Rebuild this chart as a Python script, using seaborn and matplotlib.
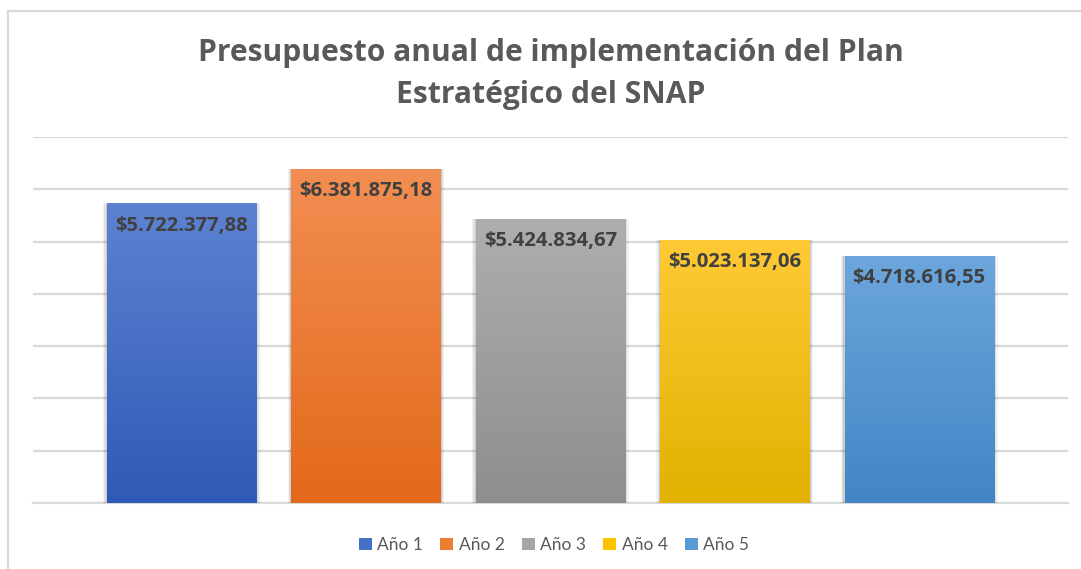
import numpy as np
import pandas as pd
import matplotlib
matplotlib.use("Agg")
import matplotlib.pyplot as plt
from matplotlib.patches import Rectangle, Patch
from matplotlib.colors import LinearSegmentedColormap
import seaborn as sns

# Budget per year of the strategic plan
years = ["Año 1", "Año 2", "Año 3", "Año 4", "Año 5"]
budget = [5722377.88, 6381875.18, 5424834.67, 5023137.06, 4718616.55]
labels = ["$5.722.377,88", "$6.381.875,18", "$5.424.834,67", "$5.023.137,06", "$4.718.616,55"]

# Gradient colours (top, bottom) per series
top_colors = ["#5D82D1", "#F28E52", "#AEAEAE", "#FFC935", "#6CA6DC"]
bottom_colors = ["#2E5BB6", "#E3691A", "#8E8E8E", "#E2B100", "#4285C6"]
legend_colors = ["#4472C4", "#ED7D31", "#A5A5A5", "#FFC000", "#5B9BD5"]

df = pd.DataFrame({"year": years, "budget": budget})

sns.set_theme(style="white")
plt.rcParams["font.family"] = ["Lato", "DejaVu Sans"]
bold_family = ["Open Sans", "DejaVu Sans"]

W, H = 1081, 569
fig = plt.figure(figsize=(W / 100, H / 100), dpi=100)
fig.patch.set_facecolor("white")

# Outer chart frame
fig.patches.append(Rectangle((8 / W, -0.1), 1.2, (H - 11) / H + 0.1,
                             transform=fig.transFigure, fill=False,
                             edgecolor="#D9D9D9", linewidth=1.6))

ax = fig.add_axes([33 / W, (H - 503) / H, (1068 - 33) / W, (503 - 137) / H])
sns.barplot(data=df, x="year", y="budget", hue="year", palette=top_colors,
            dodge=False, width=0.808, legend=False, ax=ax, zorder=3)

ax.set_yticks(np.arange(0, 7000001, 1000000))
ax.yaxis.grid(True, color="#D9D9D9", linewidth=1.6)
ax.set_axisbelow(True)
ax.tick_params(left=False, bottom=False, labelleft=False, labelbottom=False)
ax.set_xlabel("")
ax.set_ylabel("")
for s in ["top", "right", "left"]:
    ax.spines[s].set_visible(False)
ax.spines["bottom"].set_color("#D9D9D9")
ax.spines["bottom"].set_linewidth(1.6)
ax.spines["bottom"].set_zorder(1)

grad = np.linspace(0, 1, 256).reshape(-1, 1)
for i, patch in enumerate(ax.patches[:len(years)]):
    x0 = patch.get_x()
    w = patch.get_width()
    h = patch.get_height()
    # soft shadow around each bar
    for k, a in zip([0.06, 0.04, 0.02], [0.05, 0.07, 0.09]):
        ax.add_patch(Rectangle((x0 - k * 0.35, 0), w + 2 * k * 0.35, h + k * 1.2e5,
                               facecolor="#000000", alpha=a, edgecolor="none", zorder=2))
    cmap = LinearSegmentedColormap.from_list(f"g{i}", [top_colors[i], bottom_colors[i]])
    ax.imshow(grad, cmap=cmap, aspect="auto", extent=[x0, x0 + w, 0, h],
              origin="upper", zorder=3.5)
    patch.set_facecolor("none")
    patch.set_edgecolor("none")
    ax.annotate(labels[i], xy=(x0 + w / 2, h), xytext=(0, -22),
                textcoords="offset pixels", ha="center", va="center",
                fontsize=14.6, fontweight="bold", family=bold_family,
                color="#404040", zorder=5)

ax.set_xlim(-0.805, 4.807)
ax.set_ylim(0, 7000000)

fig.text(551 / W, 1 - 53 / H, "Presupuesto anual de implementación del Plan",
         ha="center", va="center", fontsize=21.6, fontweight="bold",
         family=bold_family, color="#595959")
fig.text(551 / W, 1 - 95 / H, "Estratégico del SNAP",
         ha="center", va="center", fontsize=21.6, fontweight="bold",
         family=bold_family, color="#595959")

handles = [Patch(facecolor=c, edgecolor="none") for c in legend_colors]
fig.legend(handles, years, loc="center", bbox_to_anchor=(554 / W, 1 - 545 / H),
           ncol=5, frameon=False, fontsize=12.5, handlelength=0.75, handleheight=0.75,
           handletextpad=0.3, columnspacing=1.0, labelcolor="#595959")

fig.savefig("out.png", dpi=100, facecolor="white")
